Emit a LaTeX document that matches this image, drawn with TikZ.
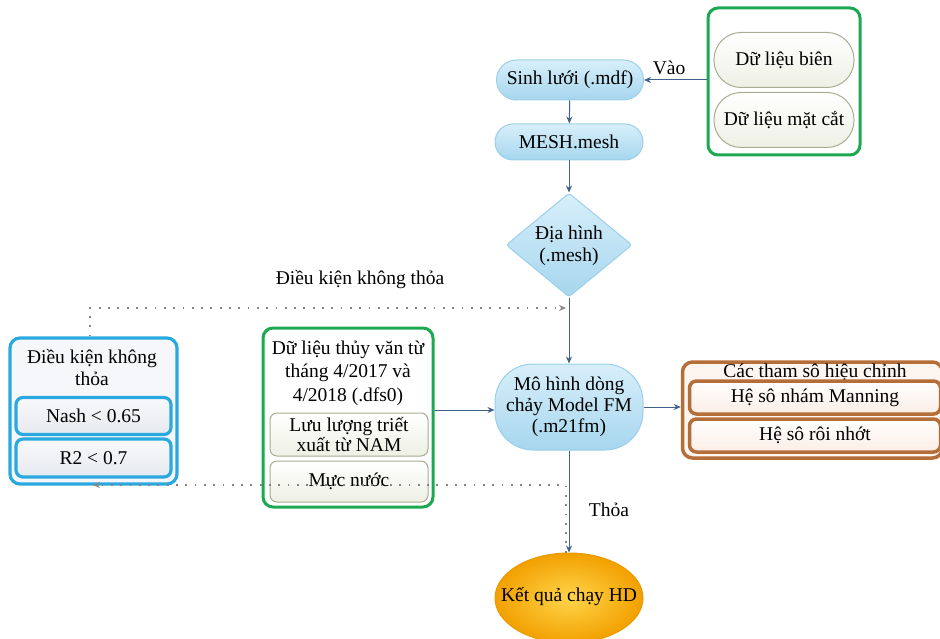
\documentclass[tikz,border=0pt]{standalone}
\usepackage{fontspec}
\setmainfont{Liberation Serif}
\usetikzlibrary{shapes.geometric,arrows.meta}
\definecolor{lineblue}{HTML}{41608A}
\definecolor{dotgray}{HTML}{858585}
\definecolor{grn}{HTML}{1DA852}
\definecolor{cyanb}{HTML}{2AA9E0}
\definecolor{brn}{HTML}{B56E38}
\definecolor{pillfill}{HTML}{EEF0E4}
\definecolor{pilldraw}{HTML}{A9AD92}
\definecolor{bluetop}{HTML}{D8EFFA}
\definecolor{bluebot}{HTML}{A6D6EE}
\definecolor{bluedraw}{HTML}{9CCFEA}
\definecolor{cyanfill}{HTML}{F6F7FA}
\definecolor{cyantop}{HTML}{F8F9FB}
\definecolor{cyanbot}{HTML}{E6E9EF}
\definecolor{brnfill}{HTML}{FDF5F0}
\definecolor{brnbot}{HTML}{FBEDE5}
\definecolor{orin}{HTML}{FFD54A}
\definecolor{orout}{HTML}{F2A000}
\definecolor{ordraw}{HTML}{E99A00}
\tikzset{
  conn/.style={draw=lineblue, line width=1, -{Stealth[length=7,width=6]}},
  dotconn/.style={draw=dotgray, line width=1.8, dash pattern=on 1.8 off 7.5, -{Stealth[length=7,width=6]}},
  bluebox/.style={shape=rectangle, top color=bluetop, bottom color=bluebot, draw=bluedraw, line width=1, align=center, inner sep=1},
  grnframe/.style={shape=rectangle, draw=grn, line width=3, rounded corners=10, fill=white},
  pill/.style={shape=rectangle, top color=white, bottom color=pillfill, draw=pilldraw, line width=1, align=center, inner sep=1},
  cyanframe/.style={shape=rectangle, draw=cyanb, line width=3.2, rounded corners=10, fill=cyanfill},
  cyanitem/.style={shape=rectangle, draw=cyanb, line width=3.2, rounded corners=7, top color=cyantop, bottom color=cyanbot, align=center, inner sep=1},
  brnframe/.style={shape=rectangle, draw=brn, line width=3.5, rounded corners=10, fill=brnfill},
  brnitem/.style={shape=rectangle, draw=brn, line width=3.5, rounded corners=7, top color=white, bottom color=brnbot, align=center, inner sep=1},
  lbl/.style={inner sep=1}
}
\begin{document}
\begin{tikzpicture}[x=1pt,y=-1pt, font=\fontsize{19.5}{22}\selectfont]
\useasboundingbox (0,0) rectangle (940,639);

% top right group
\node[grnframe, minimum width=152, minimum height=147] (grp1) at (784,81.5) {};
\node[pill, minimum width=140, minimum height=55, rounded corners=27] (bien) at (784,60) {Dữ liệu biên};
\node[pill, minimum width=140, minimum height=55, rounded corners=27] (matcat) at (784,120) {Dữ liệu mặt cắt};

% main column
\node[bluebox, minimum width=147, minimum height=40, rounded corners=20] (sinh) at (570,80) {Sinh lưới (.mdf)};
\node[bluebox, minimum width=148, minimum height=36, rounded corners=18] (mesh) at (569,142) {MESH.mesh};
\node[bluebox, shape=diamond, minimum width=126, minimum height=104, inner sep=0, rounded corners=3] (dia) at (569,245) {};
\node[lbl, align=center] (diat) at (569,246) {Địa hình\\(.mesh)};
\node[bluebox, minimum width=148, minimum height=86, rounded corners=38, font=\fontsize{19.5}{21}\selectfont] (model) at (569,407) {Mô hình dòng\\chảy Model FM\\(.m21fm)};
\node[shape=ellipse, minimum width=148, minimum height=90, inner sep=0, inner color=orin, outer color=orout, draw=ordraw, line width=1] (ket) at (569,598) {};
\node[lbl] (kett) at (569,597) {Kết quả chạy HD};

% left cyan group
\node[cyanframe, minimum width=167, minimum height=146] (lbox) at (93.5,411) {};
\node[lbl, align=center] (ltitle) at (92,368) {Điều kiện không\\thỏa};
\node[cyanitem, minimum width=155, minimum height=37] (nash) at (93.5,416) {Nash < 0.65};
\node[cyanitem, minimum width=155, minimum height=38] (r2) at (93.5,458) {R2 < 0.7};

% middle green group
\node[grnframe, minimum width=170, minimum height=179] (grp2) at (348,417.5) {};
\node[lbl, align=center, font=\fontsize{19.5}{23.5}\selectfont] (gtitle) at (348,373) {Dữ liệu thủy văn từ\\tháng 4/2017 và\\4/2018 (.dfs0)};
\node[pill, minimum width=158, minimum height=43, rounded corners=7, font=\fontsize{19.5}{20}\selectfont] (luu) at (349,434.5) {Lưu lượng triết\\xuất từ NAM};
\node[pill, minimum width=158, minimum height=41, rounded corners=7] (muc) at (349,481.5) {Mực nước};

% right brown group
\node[brnframe, minimum width=260, minimum height=96] (bbox) at (812.5,410) {};
\node[lbl] (btitle) at (815,372) {Các tham sô hiệu chỉnh};
\node[brnitem, minimum width=251, minimum height=33] (manning) at (815,397.5) {Hệ sô nhám Manning};
\node[brnitem, minimum width=251, minimum height=33] (roi) at (815,435.5) {Hệ sô rôi nhớt};

% connectors
\draw[conn] (sinh.east -| grp1.west) -- node[pos=0.6, above, lbl, yshift=4] {Vào} (sinh.east);
\draw[conn] (sinh) -- (mesh);
\draw[conn] (mesh) -- (dia);
\draw[conn] (dia.south) -- (model.north);
\draw[conn] (grp2.east |- 0,410) -- (model.west |- 0,410);
\draw[conn] (model.east) -- (model.east -| bbox.west);
\draw[conn] (model.south) -- (ket.north);

\coordinate (j1) at (566,308);
\coordinate (e1) at (93,485);
\draw[dotconn] ([xshift=-3.5]lbox.north) |- (j1);
\draw[dotconn] ([xshift=-3]ket.north) |- (e1);

\node[lbl] (lab1) at (360,280) {Điều kiện không thỏa};
\node[lbl] (lab2) at (609,510) {Thỏa};
\end{tikzpicture}
\end{document}
